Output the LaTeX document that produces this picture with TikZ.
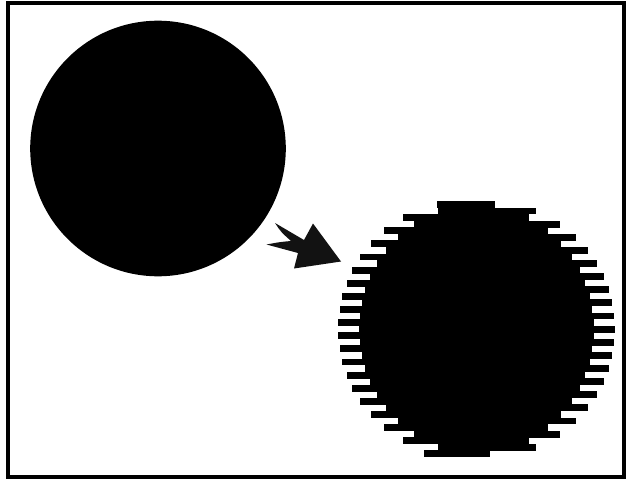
\documentclass[tikz,border=0pt]{standalone}
\begin{document}
\begin{tikzpicture}[x=1pt,y=-1pt]
\useasboundingbox (0,0) rectangle (629,479);
\fill[white] (0,0) rectangle (629,479);
\draw[line width=4pt] (8,3) rectangle (624,477);
% source circle
\fill (158,148.5) circle[radius=127.8];
% arrow
\fill[black!93] (341,261.5) -- (313,223.5) -- (304,240)
  .. controls (290,232) .. (275,223)
  .. controls (281,232) .. (291,241)
  .. controls (280,242) .. (266.5,244.5)
  .. controls (282,249) .. (298,253)
  -- (294,268.5) -- cycle;
% interlaced circle
\foreach \i in {0,...,37} {
  \pgfmathsetmacro{\ya}{201+\i*6.564}
  \pgfmathsetmacro{\yb}{\ya+6.564+0.3}
  \pgfmathsetmacro{\t}{(\ya+3.282-329)/128}
  \pgfmathsetmacro{\w}{128*sqrt(max(0,1-\t*\t))}
  \pgfmathsetmacro{\xc}{ifthenelse(mod(\i,2)==0,466,487)}
  \fill (\xc-\w,\ya) rectangle (\xc+\w,\yb);
}
\fill (423.5,450.4) rectangle (490,457);
\end{tikzpicture}
\end{document}
